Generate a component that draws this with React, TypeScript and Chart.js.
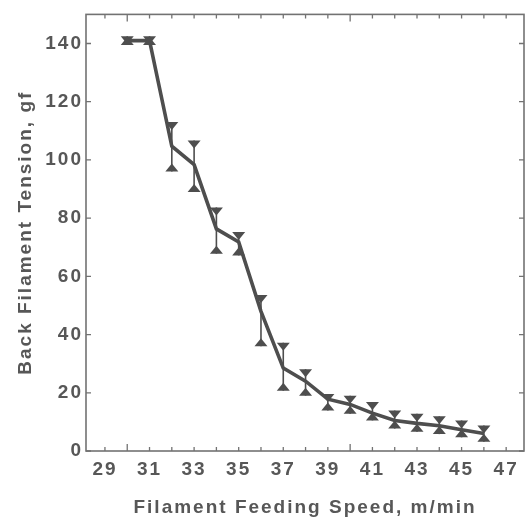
import React, { useEffect, useRef } from 'react';
import { Chart, registerables } from 'chart.js';

Chart.register(...registerables);

// ---- data ----
const speeds = [30, 31, 32, 33, 34, 35, 36, 37, 38, 39, 40, 41, 42, 43, 44, 45, 46];
const tension = [141, 141, 104.7, 98.4, 76.3, 71.8, 48, 28.5, 24, 17.8, 16, 13, 10.5, 9.5, 8.7, 7.3, 6];
const upperErr = [142.5, 142.5, 113, 106.7, 83.7, 75.2, 53.6, 37.2, 28.1, 19.6, 19, 16.8, 13.9, 12.8, 11.9, 10.5, 8.8];
const lowerErr = [139.5, 139.5, 96, 89, 67.8, 67.2, 36, 20.7, 19, 13.9, 12.8, 10.5, 7.7, 6.6, 5.8, 4.7, 3.2];
const xTickValues = [29, 31, 33, 35, 37, 39, 41, 43, 45, 47];
const yTickValues = [0, 20, 40, 60, 80, 100, 120, 140];
const xTitle = 'Filament Feeding Speed, m/min';
const yTitle = 'Back Filament Tension, gf';

const X_MIN = 28.15;
const X_MAX = 47.8;
const Y_MIN = 0;
const Y_MAX = 150;

const INK = '#4e4e4e';
const AXIS = '#727272';
const TEXT = '#575757';
const FONT = '"Liberation Sans", Arial, sans-serif';

const spacingPlugin = {
  id: 'letterSpacing',
  beforeLayout(chart: any) {
    chart.ctx.letterSpacing = '2px';
  },
  beforeDraw(chart: any) {
    chart.ctx.letterSpacing = '2px';
  },
};

const framePlugin = {
  id: 'frameTicks',
  beforeDatasetsDraw(chart: any) {
    const { ctx, chartArea: a, scales } = chart;
    const x = scales.x;
    const y = scales.y;
    ctx.save();
    ctx.strokeStyle = AXIS;
    ctx.lineWidth = 1.6;
    ctx.strokeRect(a.left, a.top, a.right - a.left, a.bottom - a.top);
    ctx.lineWidth = 1.3;
    ctx.beginPath();
    for (let v = Math.ceil(x.min); v <= x.max; v++) {
      const px = x.getPixelForValue(v);
      const len = v % 10 === 0 ? 7 : 4;
      ctx.moveTo(px, a.bottom);
      ctx.lineTo(px, a.bottom - len);
      ctx.moveTo(px, a.top);
      ctx.lineTo(px, a.top + len);
    }
    for (const v of yTickValues) {
      const py = y.getPixelForValue(v);
      ctx.moveTo(a.left, py);
      ctx.lineTo(a.left + 5, py);
      ctx.moveTo(a.right, py);
      ctx.lineTo(a.right - 5, py);
    }
    ctx.stroke();
    ctx.restore();
  },
};

const errorBarPlugin = {
  id: 'errorBars',
  afterDatasetsDraw(chart: any) {
    const { ctx, scales } = chart;
    const x = scales.x;
    const y = scales.y;
    const hw = 6.5;
    const h = 8;
    ctx.save();
    ctx.strokeStyle = INK;
    ctx.fillStyle = INK;
    ctx.lineWidth = 1.6;
    speeds.forEach((s, i) => {
      const px = x.getPixelForValue(s);
      const pu = y.getPixelForValue(upperErr[i]);
      const pl = y.getPixelForValue(lowerErr[i]);
      ctx.beginPath();
      ctx.moveTo(px, pu);
      ctx.lineTo(px, pl);
      ctx.stroke();
      ctx.beginPath();
      ctx.moveTo(px - hw, pu);
      ctx.lineTo(px + hw, pu);
      ctx.lineTo(px, pu + h);
      ctx.closePath();
      ctx.fill();
      ctx.beginPath();
      ctx.moveTo(px - hw, pl);
      ctx.lineTo(px + hw, pl);
      ctx.lineTo(px, pl - h);
      ctx.closePath();
      ctx.fill();
    });
    ctx.restore();
  },
};

export default function App() {
  const canvasRef = useRef<HTMLCanvasElement | null>(null);

  useEffect(() => {
    document.body.style.margin = '0';
    const canvas = canvasRef.current;
    if (!canvas) return;
    const chart = new Chart(canvas, {
      type: 'line',
      data: {
        datasets: [
          {
            label: 'Back filament tension',
            data: speeds.map((s, i) => ({ x: s, y: tension[i] })),
            borderColor: INK,
            backgroundColor: INK,
            borderWidth: 3.6,
            pointRadius: 0,
            tension: 0,
            fill: false,
          },
        ],
      },
      options: {
        responsive: false,
        animation: false,
        events: [],
        layout: { padding: { left: 0, top: 11, right: 6, bottom: 0 } },
        plugins: {
          legend: { display: false },
          tooltip: { enabled: false },
        },
        scales: {
          x: {
            type: 'linear',
            min: X_MIN,
            max: X_MAX,
            grid: { display: false, drawTicks: false },
            border: { display: false },
            afterBuildTicks: (scale: any) => {
              scale.ticks = xTickValues.map((v) => ({ value: v }));
            },
            afterFit: (scale: any) => {
              scale.height = 69;
            },
            ticks: {
              color: TEXT,
              padding: 7,
              maxRotation: 0,
              autoSkip: false,
              font: { family: FONT, size: 19, weight: 'bold' },
              callback: (v: any) => String(v),
            },
            title: {
              display: true,
              text: xTitle,
              color: TEXT,
              padding: { top: 0, bottom: 1 },
              font: { family: FONT, size: 19, weight: 'bold' },
            },
          },
          y: {
            type: 'linear',
            min: Y_MIN,
            max: Y_MAX,
            grid: { display: false, drawTicks: false },
            border: { display: false },
            afterBuildTicks: (scale: any) => {
              scale.ticks = yTickValues.map((v) => ({ value: v }));
            },
            afterFit: (scale: any) => {
              scale.width = 86;
            },
            ticks: {
              color: TEXT,
              padding: 3,
              autoSkip: false,
              font: { family: FONT, size: 19, weight: 'bold' },
              callback: (v: any) => String(v),
            },
            title: {
              display: true,
              text: yTitle,
              color: TEXT,
              padding: { top: 14, bottom: 0 },
              font: { family: FONT, size: 19, weight: 'bold' },
            },
          },
        },
      },
      plugins: [spacingPlugin, framePlugin, errorBarPlugin],
    } as any);
    return () => chart.destroy();
  }, []);

  return (
    <div style={{ position: 'absolute', left: 0, top: 0, width: 530, height: 520, background: '#ffffff' }}>
      <canvas ref={canvasRef} width={530} height={520} style={{ display: 'block' }} />
    </div>
  );
}
